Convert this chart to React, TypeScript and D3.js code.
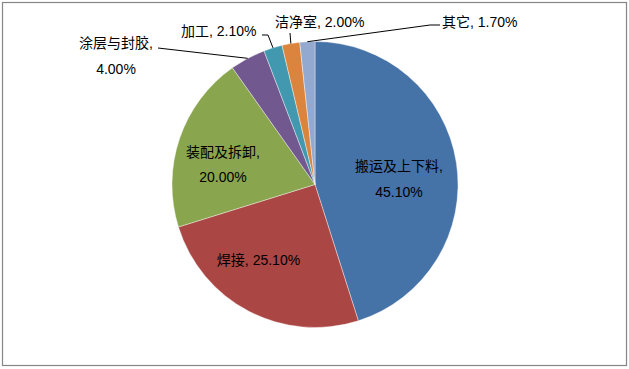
import React from "react";
import * as d3 from "d3";

const categories = ["搬运及上下料", "焊接", "装配及拆卸", "涂层与封胶", "加工", "洁净室", "其它"];
const values = [45.1, 25.1, 20.0, 4.0, 2.1, 2.0, 1.7];
const valueLabels = ["45.10%", "25.10%", "20.00%", "4.00%", "2.10%", "2.00%", "1.70%"];
const colors = ["#4572A7", "#AA4643", "#89A54E", "#71588F", "#4198AF", "#DB843D", "#93A9CF"];

const W = 629;
const H = 369;
const cx = 315;
const cy = 184.5;
const R = 143;

// label layout: lines of text, anchor, positions of baselines; leader elbow points (relative layout)
type Lbl = { lines: string[]; x: number; ys: number[]; anchor: "start" | "middle"; leader?: [number, number][] };
const labelLayout: Lbl[] = [
  { lines: [categories[0] + ",", valueLabels[0]], x: 399, ys: [171, 197], anchor: "middle" },
  { lines: [categories[1] + ", " + valueLabels[1]], x: 258.5, ys: [265], anchor: "middle" },
  { lines: [categories[2] + ",", valueLabels[2]], x: 223, ys: [157, 182], anchor: "middle" },
  { lines: [categories[3] + ",", valueLabels[3]], x: 116, ys: [48, 74], anchor: "middle", leader: [[158, 48]] },
  { lines: [categories[4] + ", " + valueLabels[4]], x: 181, ys: [36], anchor: "start", leader: [[262, 35], [268, 35]] },
  { lines: [categories[5] + ", " + valueLabels[5]], x: 275, ys: [27], anchor: "start", leader: [[290, 33]] },
  { lines: [categories[6] + ", " + valueLabels[6]], x: 442, ys: [27], anchor: "start", leader: [[440, 25], [430, 25]] },
];

export default function App() {
  const pie = d3.pie<number>().sort(null).value((d) => d).startAngle(0).endAngle(2 * Math.PI);
  const arcs = pie(values);
  const arc = d3.arc<d3.PieArcDatum<number>>().innerRadius(0).outerRadius(R);
  const edge = (a: d3.PieArcDatum<number>): [number, number] => {
    const m = (a.startAngle + a.endAngle) / 2;
    return [cx + R * Math.sin(m), cy - R * Math.cos(m)];
  };
  const font = "'Liberation Sans', Arial, 'Noto Sans CJK SC', sans-serif";
  return (
    <svg width={W} height={H} style={{ position: "fixed", left: 0, top: 0, background: "#fff" }}>
      <rect x={2.5} y={2.5} width={624} height={363} fill="#fff" stroke="#868686" strokeWidth={1.2} />
      <g transform={`translate(${cx},${cy})`}>
        {arcs.map((a, i) => (
          <path key={i} d={arc(a) || ""} fill={colors[i]} stroke="#ffffff" strokeWidth={0.4} />
        ))}
      </g>
      {arcs.map((a, i) => {
        const L = labelLayout[i];
        if (!L.leader) return null;
        const pts = [...L.leader, edge(a)];
        return (
          <polyline
            key={"l" + i}
            points={pts.map((p) => p.join(",")).join(" ")}
            fill="none"
            stroke="#000"
            strokeWidth={1}
          />
        );
      })}
      {labelLayout.map((L, i) => (
        <text key={"t" + i} fontFamily={font} fontSize={14} fill="#000" textAnchor={L.anchor}>
          {L.lines.map((s, j) => (
            <tspan key={j} x={L.x} y={L.ys[j]}>
              {s}
            </tspan>
          ))}
        </text>
      ))}
    </svg>
  );
}
